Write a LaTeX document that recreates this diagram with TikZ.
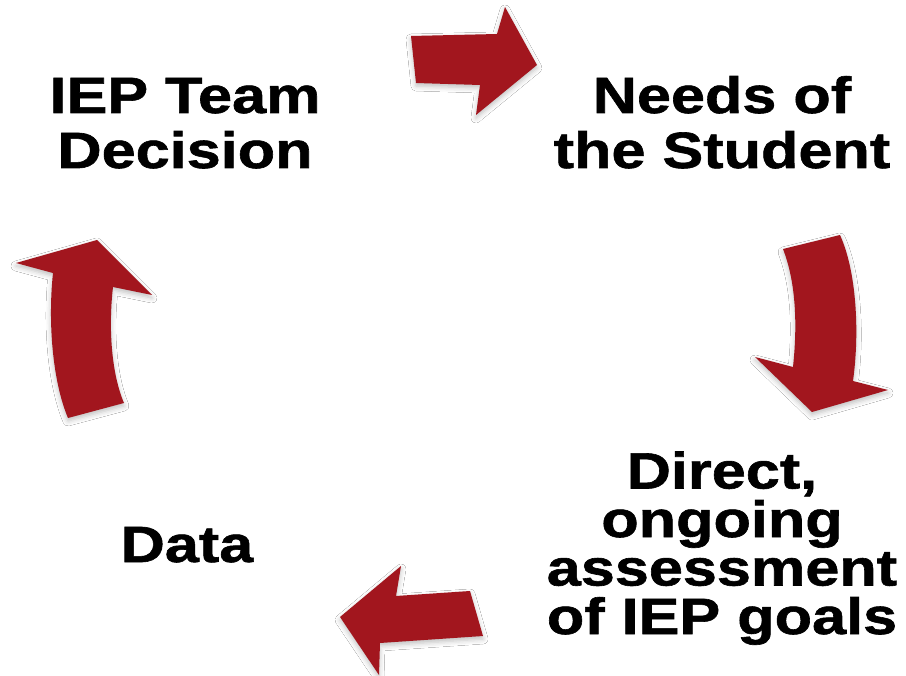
\documentclass[tikz,border=0pt]{standalone}
\usepackage{fontspec}
\setmainfont{Liberation Sans}[FakeStretch=1.2, BoldFeatures={FakeBold=1.2}]
\usetikzlibrary{shadows.blur}
\definecolor{arrowred}{RGB}{162,22,30}
\tikzset{
  cyclearrow/.style={fill=arrowred, draw=none, blur shadow={shadow xshift=0pt, shadow yshift=-3pt, shadow blur radius=5pt, shadow opacity=25}},
  toplabel/.style={align=center, anchor=base, inner sep=0pt, font=\bfseries\fontsize{51}{55}\selectfont},
  sidelabel/.style={align=center, anchor=base, inner sep=0pt, font=\bfseries\fontsize{51}{48.5}\selectfont}
}
\begin{document}
\begin{tikzpicture}[x=1pt,y=-1pt]
\useasboundingbox (0,0) rectangle (906,676);
\fill[white] (0,0) rectangle (906,676);
% arrows
\fill[cyclearrow] (411,36) -- (497,34) -- (505,7) -- (537,65) -- (476,115) -- (480,85) -- (416,83) -- cycle;
\fill[cyclearrow] (783,249) -- (840,235) .. controls (856,270) and (860,330) .. (853,381) -- (888,390) -- (812,412) -- (755,357) -- (793,367) .. controls (798,320) and (795,280) .. (783,249) -- cycle;
\fill[cyclearrow] (340,617) -- (401,566) -- (396,596) -- (470,591) -- (483,636) -- (380,643) -- (379,675) -- cycle;
\fill[cyclearrow] (16,263) -- (97,240) -- (152,295) -- (113,287) .. controls (108,330) and (112,375) .. (124,403) -- (68,418) .. controls (52,380) and (48,320) .. (53,273) -- cycle;
% labels (anchor = baseline of the last line)
\node[toplabel] (iep) at (185,168) {IEP Team\\Decision};
\node[toplabel] (needs) at (722,168) {Needs of\\the Student};
\node[sidelabel] (direct) at (722,634) {Direct,\\ongoing\\assessment\\of IEP goals};
\node[toplabel] (data) at (187,562) {Data};
\end{tikzpicture}
\end{document}
